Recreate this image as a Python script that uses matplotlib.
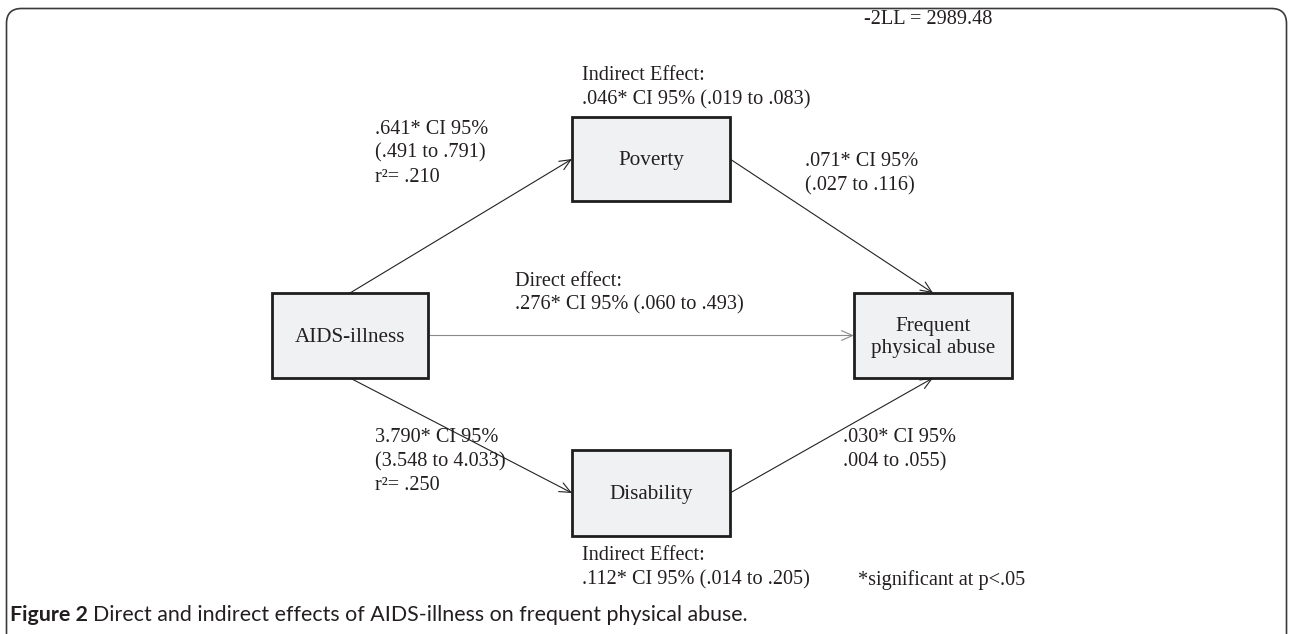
"""Path diagram: direct and indirect effects of AIDS-illness on frequent physical abuse"""
import matplotlib.pyplot as plt
from matplotlib.patches import Rectangle, FancyBboxPatch, FancyArrowPatch

# nodes: name -> (x_left, y_top, width, height) in pixel units of the figure
NODE_NAMES = ['AIDS-illness', 'Poverty', 'Disability', 'Frequent\nphysical abuse']
NODE_BOXES = {
    'AIDS-illness': (272, 293, 156, 85),
    'Poverty': (572, 117, 158, 84),
    'Disability': (572, 450, 158, 86),
    'Frequent\nphysical abuse': (854, 293, 158, 85),
}

# path coefficients
PATH_A1 = ['.641* CI 95%', '(.491 to .791)', 'r²= .210']
PATH_B1 = ['.071* CI 95%', '(.027 to .116)']
PATH_A2 = ['3.790* CI 95%', '(3.548 to 4.033)', 'r²= .250']
PATH_B2 = ['.030* CI 95%', '.004 to .055)']
DIRECT = ['Direct effect:', '.276* CI 95% (.060 to .493)']
INDIRECT_1 = ['Indirect Effect:', '.046* CI 95% (.019 to .083)']
INDIRECT_2 = ['Indirect Effect:', '.112* CI 95% (.014 to .205)']
FIT = '-2LL = 2989.48'
NOTE = '*significant at p<.05'
CAPTION_BOLD = 'Figure 2'
CAPTION = 'Direct and indirect effects of AIDS-illness on frequent physical abuse.'

W, H = 1290, 634
SERIF = 'Liberation Serif'
FS = 14.6
LINE = 24
INK = '#231f20'

fig = plt.figure(figsize=(W / 100, H / 100), dpi=100)
ax = fig.add_axes([0, 0, 1, 1])
ax.set_xlim(0, W)
ax.set_ylim(H, 0)
ax.axis('off')

# outer rounded frame (open at the bottom)
frame = FancyBboxPatch((6.5, 8.5), 1280, 700, boxstyle='round,pad=0,rounding_size=15',
                       fill=False, ec='#3a3a3a', lw=1.2)
ax.add_patch(frame)


def anchor(name, side):
    x, y, w, h = NODE_BOXES[name]
    return {'top': (x + w / 2, y), 'bottom': (x + w / 2, y + h),
            'left': (x, y + h / 2), 'right': (x + w, y + h / 2)}[side]


for name in NODE_NAMES:
    x, y, w, h = NODE_BOXES[name]
    ax.add_patch(Rectangle((x, y), w, h, fc='#f0f1f3', ec='#1e1e1e', lw=2.0, zorder=3))
    ax.text(x + w / 2, y + h / 2 + 2, name, ha='center', va='center', family=SERIF,
            fontsize=FS + 0.6, color=INK, linespacing=1.2, zorder=4)

edges = [('AIDS-illness', 'top', 'Poverty', 'left', '#222222'),
         ('Poverty', 'right', 'Frequent\nphysical abuse', 'top', '#222222'),
         ('AIDS-illness', 'right', 'Frequent\nphysical abuse', 'left', '#8a8a8a'),
         ('AIDS-illness', 'bottom', 'Disability', 'left', '#222222'),
         ('Disability', 'right', 'Frequent\nphysical abuse', 'bottom', '#222222')]
for src, s_side, dst, d_side, col in edges:
    arr = FancyArrowPatch(anchor(src, s_side), anchor(dst, d_side), arrowstyle='->,head_length=8,head_width=3.5',
                          color=col, lw=0.8, shrinkA=0, shrinkB=0, mutation_scale=1, zorder=2)
    ax.add_patch(arr)


def block(x, y, lines):
    for i, s in enumerate(lines):
        ax.text(x, y + i * LINE, s, ha='left', va='center', family=SERIF, fontsize=FS, color=INK)


block(864, 19, [FIT])
block(582, 76, INDIRECT_1)
block(375, 129, PATH_A1)
block(805, 162, PATH_B1)
block(515, 281, DIRECT)
block(375, 438, PATH_A2)
block(843, 438, PATH_B2)
block(582, 556, INDIRECT_2)
block(858, 580, [NOTE])

t = ax.text(10, 615, CAPTION_BOLD, ha='left', va='center', family='Lato', fontsize=15.4,
            fontweight='bold', color=INK)
fig.canvas.draw()
bb = t.get_window_extent()
x_end = ax.transData.inverted().transform((bb.x1, 0))[0]
ax.text(x_end + 5, 615, CAPTION, ha='left', va='center', family='Lato', fontsize=15.4, color=INK)

fig.savefig('out.png', dpi=100)
plt.close(fig)
